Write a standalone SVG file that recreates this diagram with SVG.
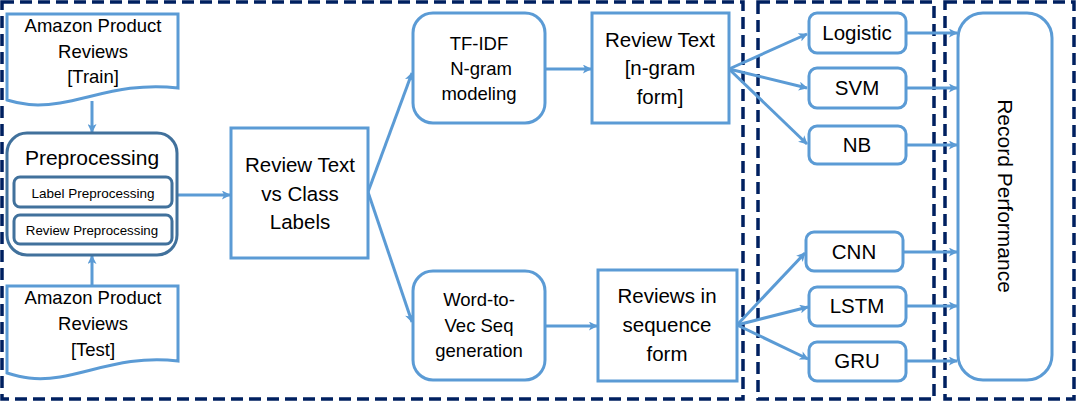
<svg xmlns="http://www.w3.org/2000/svg" width="1076" height="402" viewBox="0 0 1076 402">
<style>
.frame{fill:none;stroke:#002060;stroke-width:3.5;stroke-dasharray:12 6}
.box{fill:#fff;stroke:#5B9BD5;stroke-width:3}
.pbox{fill:#fff;stroke:#41719C;stroke-width:3}
.conn{fill:none;stroke:#5B9BD5;stroke-width:3;marker-end:url(#ah)}
text{font-family:"Liberation Sans",Arial,sans-serif;fill:#000;text-anchor:middle}
.t19{font-size:18.5px}
.t21{font-size:20.5px}
</style>
<defs>
<marker id="ah" viewBox="0 0 10 10" refX="9" refY="5" markerWidth="10" markerHeight="9" markerUnits="userSpaceOnUse" orient="auto">
<path d="M0,0 L10,5 L0,10 L2.5,5 Z" fill="#5B9BD5"/>
</marker>
</defs>
<rect width="1076" height="402" fill="#fff"/>
<g id="frames">
<rect class="frame" x="2" y="2" width="741" height="397"/>
<rect class="frame" x="758" y="2" width="176" height="397"/>
<rect class="frame" x="945" y="2" width="129" height="397"/>
</g>
<g id="connectors">
<path class="conn" d="M92,101 V132"/>
<path class="conn" d="M92,286 V256"/>
<path class="conn" d="M177,195 H230"/>
<path class="conn" d="M368,192 L412,73"/>
<path class="conn" d="M368,192 L412,322"/>
<path class="conn" d="M545,69 H591"/>
<path class="conn" d="M545,326 H597"/>
<path class="conn" d="M729,69 L807,34"/>
<path class="conn" d="M729,69 L807,88"/>
<path class="conn" d="M729,69 L807,144"/>
<path class="conn" d="M737,325 L805,253"/>
<path class="conn" d="M737,325 L808,307"/>
<path class="conn" d="M737,325 L808,359"/>
<path class="conn" d="M906,33 H957"/>
<path class="conn" d="M906,88 H957"/>
<path class="conn" d="M906,145 H957"/>
<path class="conn" d="M903,252 H957"/>
<path class="conn" d="M906,306 H957"/>
<path class="conn" d="M906,361 H957"/>
</g>
<g id="train">
<path class="box" d="M7,14 H178 V88 C130,82 95,97 60,103 C35,107 20,104 7,100 Z"/>
<text class="t19" x="93" y="32">Amazon Product</text>
<text class="t19" x="93" y="58">Reviews</text>
<text class="t19" x="93" y="83">[Train]</text>
</g>
<g id="test">
<path class="box" d="M7,286 H178 V361 C130,355 95,371 60,377 C35,381 20,377 7,373 Z"/>
<text class="t19" x="93" y="304">Amazon Product</text>
<text class="t19" x="93" y="330">Reviews</text>
<text class="t19" x="93" y="356">[Test]</text>
</g>
<g id="preprocessing">
<rect class="pbox" x="7" y="133" width="170" height="122" rx="20"/>
<text x="92" y="165" style="font-size:21px">Preprocessing</text>
<rect class="pbox" x="14" y="177" width="158" height="30" rx="6"/>
<text x="93" y="198" style="font-size:13.5px">Label Preprocessing</text>
<rect class="pbox" x="14" y="215" width="158" height="29" rx="6"/>
<text x="92" y="235" style="font-size:13.3px">Review Preprocessing</text>
</g>
<g id="reviewclass">
<rect class="box" x="231" y="128" width="137" height="130"/>
<text class="t21" x="300" y="172">Review Text</text>
<text class="t21" x="300" y="201">vs Class</text>
<text class="t21" x="300" y="229">Labels</text>
</g>
<g id="tfidf">
<rect class="box" x="413" y="13" width="132" height="110" rx="20"/>
<text class="t19" x="479" y="50">TF-IDF</text>
<text class="t19" x="481" y="75">N-gram</text>
<text class="t19" x="479" y="100">modeling</text>
</g>
<g id="w2v">
<rect class="box" x="413" y="271" width="132" height="109" rx="20"/>
<text class="t19" x="479" y="306">Word-to-</text>
<text class="t19" x="479" y="332">Vec Seq</text>
<text class="t19" x="479" y="357">generation</text>
</g>
<g id="ngram">
<rect class="box" x="592" y="13" width="137" height="110"/>
<text class="t21" x="660" y="47">Review Text</text>
<text class="t21" x="660" y="75">[n-gram</text>
<text class="t21" x="660" y="104">form]</text>
</g>
<g id="seq">
<rect class="box" x="598" y="270" width="139" height="111"/>
<text class="t21" x="667" y="303">Reviews in</text>
<text class="t21" x="667" y="332">sequence</text>
<text class="t21" x="667" y="361">form</text>
</g>
<g id="logistic">
<rect class="box" x="809" y="13" width="97" height="40" rx="8"/>
<text class="t21" x="857" y="40">Logistic</text>
</g>
<g id="svm">
<rect class="box" x="809" y="68" width="97" height="40" rx="8"/>
<text class="t21" x="857" y="95">SVM</text>
</g>
<g id="nb">
<rect class="box" x="809" y="126" width="97" height="38" rx="8"/>
<text class="t21" x="857" y="152">NB</text>
</g>
<g id="cnn">
<rect class="box" x="806" y="232" width="97" height="39" rx="8"/>
<text class="t21" x="854" y="259">CNN</text>
</g>
<g id="lstm">
<rect class="box" x="809" y="287" width="97" height="39" rx="8"/>
<text class="t21" x="857" y="313">LSTM</text>
</g>
<g id="gru">
<rect class="box" x="809" y="342" width="97" height="39" rx="8"/>
<text class="t21" x="857" y="368">GRU</text>
</g>
<g id="record">
<rect class="box" x="958" y="13" width="94" height="367" rx="25"/>
<text style="font-size:21px" transform="translate(998,196) rotate(90)">Record Performance</text>
</g>
</svg>
